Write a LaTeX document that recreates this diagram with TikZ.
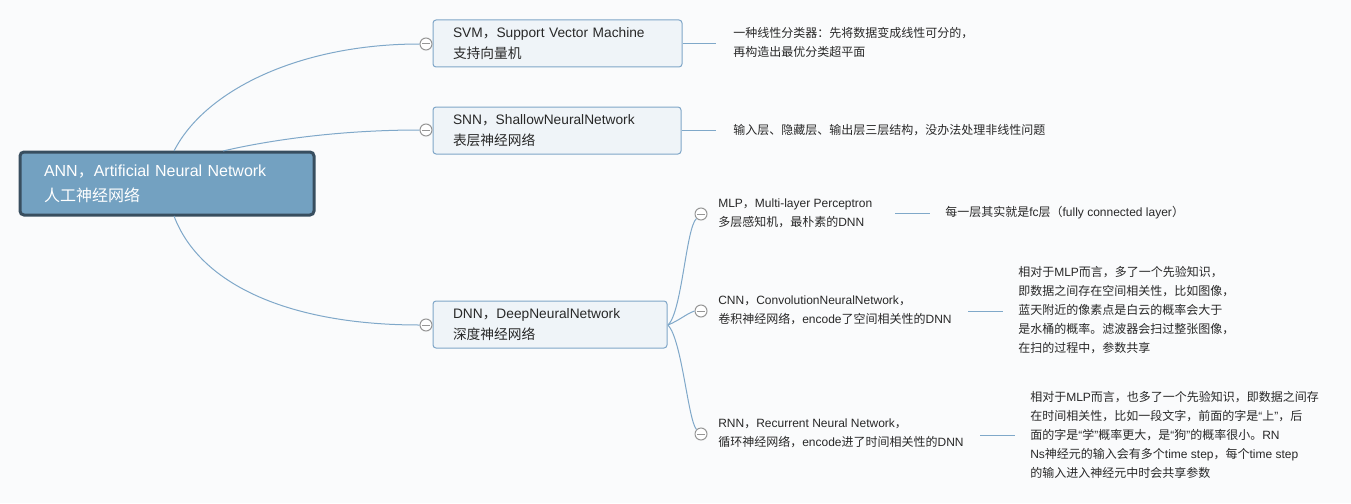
\documentclass[tikz,border=0pt]{standalone}
\usepackage{fontspec}
\setmainfont{Liberation Sans}
\newfontfamily\cjkfont{Noto Sans CJK SC}
\newfontfamily\latfont{Liberation Sans}
\XeTeXinterchartokenstate=1
\newXeTeXintercharclass\CJKcls
\newcount\cjkcnt
\cjkcnt="3000 \loop\XeTeXcharclass\cjkcnt=\CJKcls\advance\cjkcnt by 1\relax\ifnum\cjkcnt<"3040 \repeat
\cjkcnt="4E00 \loop\XeTeXcharclass\cjkcnt=\CJKcls\advance\cjkcnt by 1\relax\ifnum\cjkcnt<"A000 \repeat
\cjkcnt="FF00 \loop\XeTeXcharclass\cjkcnt=\CJKcls\advance\cjkcnt by 1\relax\ifnum\cjkcnt<"FFF0 \repeat
\XeTeXcharclass"201C=0
\XeTeXcharclass"201D=0
\XeTeXinterchartoks 0 \CJKcls={\cjkfont}
\XeTeXinterchartoks 4095 \CJKcls={\cjkfont}
\XeTeXinterchartoks \CJKcls 0={\latfont}
\XeTeXinterchartoks \CJKcls 4095={\latfont}
\definecolor{bgc}{RGB}{250,251,252}
\definecolor{rootf}{RGB}{115,161,193}
\definecolor{rootb}{RGB}{56,78,95}
\definecolor{boxf}{RGB}{239,244,248}
\definecolor{boxb}{RGB}{127,166,200}
\definecolor{linec}{RGB}{127,168,201}
\definecolor{togc}{RGB}{150,150,150}
\definecolor{txt}{RGB}{40,40,40}
\tikzset{
  every node/.style={text=txt},
  rootbox/.style={draw=rootb, line width=2.25pt, fill=rootf, rounded corners=3pt, text=white,
    font=\fontsize{12}{18.75}\selectfont, align=left, inner xsep=18pt, inner ysep=0pt, minimum height=47.25pt},
  topicbox/.style={draw=boxb, line width=0.75pt, fill=boxf, rounded corners=2.25pt,
    font=\fontsize{10.3}{15.75}\selectfont, align=left, inner xsep=15pt, inner ysep=0pt, minimum height=35.25pt},
  desc/.style={font=\fontsize{9}{14.25}\selectfont, align=left, inner sep=0pt, anchor=west},
  childtxt/.style={font=\fontsize{9}{14}\selectfont, align=left, inner sep=0pt, anchor=west},
  tog/.style={circle, draw=togc, fill=white, line width=0.75pt, minimum size=9pt, inner sep=0pt,
    path picture={\draw[togc, line width=0.75pt] ([xshift=-3pt]path picture bounding box.center) -- ([xshift=3pt]path picture bounding box.center);}},
  conn/.style={draw=linec, line width=0.75pt},
}
\begin{document}
\begin{tikzpicture}[x=0.75pt, y=-0.75pt]
\fill[bgc] (0,0) rectangle (1351,503);
\useasboundingbox (0,0) rectangle (1351,503);

% main nodes
\node[rootbox, text width=184.5pt] (root) at (167,183.5) {ANN，Artificial Neural Network\\人工神经网络};
\node[topicbox, text width=156.75pt] (svm) at (557.5,43.5) {SVM，Support Vector Machine\\支持向量机};
\node[topicbox, text width=156pt] (snn) at (557,130.5) {SNN，ShallowNeuralNetwork\\表层神经网络};
\node[topicbox, text width=145.5pt] (dnn) at (550,324.5) {DNN，DeepNeuralNetwork\\深度神经网络};

% toggles
\node[tog] (t1) at (426,44) {};
\node[tog] (t2) at (426,130) {};
\node[tog] (t3) at (426,325) {};
\node[tog] (t4) at (701,214) {};
\node[tog] (t5) at (701,311) {};
\node[tog] (t6) at (701,434) {};

% child texts
\node[childtxt] (mlp) at (718,213) {MLP，Multi-layer Perceptron\\多层感知机，最朴素的DNN};
\node[childtxt] (cnn) at (718,310.5) {CNN，ConvolutionNeuralNetwork，\\卷积神经网络，encode了空间相关性的DNN};
\node[childtxt] (rnn) at (718,433.5) {RNN，Recurrent Neural Network，\\循环神经网络，encode进了时间相关性的DNN};

% descriptions
\node[desc] (svmd) at (733,42.5) {一种线性分类器：先将数据变成线性可分的，\\再构造出最优分类超平面};
\node[desc] (snnd) at (733,130) {输入层、隐藏层、输出层三层结构，没办法处理非线性问题};
\node[desc] (mlpd) at (945,213) {每一层其实就是fc层（fully connected layer）};
\node[desc] (cnnd) at (1018,310.5) {相对于MLP而言，多了一个先验知识，\\即数据之间存在空间相关性，比如图像，\\蓝天附近的像素点是白云的概率会大于\\是水桶的概率。滤波器会扫过整张图像，\\在扫的过程中，参数共享};
\node[desc] (rnnd) at (1030,434.5) {相对于MLP而言，也多了一个先验知识，即数据之间存\\在时间相关性，比如一段文字，前面的字是“上”，后\\面的字是“学”概率更大，是“狗”的概率很小。RN\\Ns神经元的输入会有多个time step，每个time step\\的输入进入神经元中时会共享参数};

% anchor coordinates
\coordinate (r1) at (174,151);
\coordinate (r2) at (223,151);
\coordinate (r3) at (174,216);
\coordinate (d0) at (668,325);
\coordinate (mlpa) at (895,213);
\coordinate (cnna) at (968,311);
\coordinate (rnna) at (980,435);

% connectors from root
\draw[conn] (r1) .. controls (205,90) and (300,44) .. (t1.west);
\draw[conn] (r2) .. controls (270,140) and (340,130) .. (t2.west);
\draw[conn] (r3) .. controls (200,285) and (290,325) .. (t3.west);

% connectors from DNN
\draw[conn] (d0) .. controls (682,312) and (686,228) .. (t4.south west);
\draw[conn] (d0) .. controls (680,320) and (686,314) .. (t5.west);
\draw[conn] (d0) .. controls (682,340) and (688,420) .. (t6.north west);

% description connectors
\draw[conn, shorten >=12.75pt] (svm.east) -- (svm.east -| svmd.west);
\draw[conn, shorten >=12.75pt] (snn.east) -- (snn.east -| snnd.west);
\draw[conn, shorten >=11.25pt] (mlpa) -- (mlpa -| mlpd.west);
\draw[conn, shorten >=11.25pt] (cnna) -- (cnna -| cnnd.west);
\draw[conn, shorten >=11.25pt] (rnna) -- (rnna -| rnnd.west);
\end{tikzpicture}
\end{document}
